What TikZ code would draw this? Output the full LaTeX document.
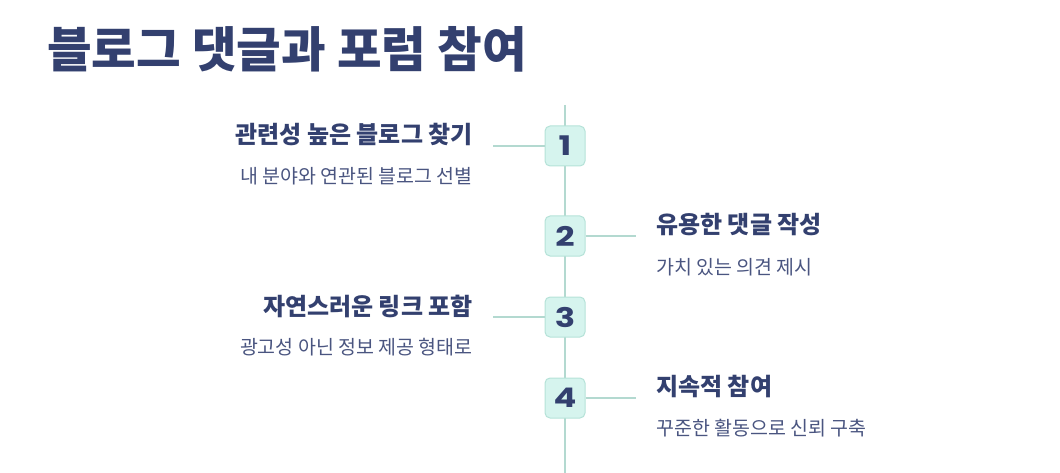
\documentclass[tikz,border=0pt]{standalone}
\usepackage{fontspec}
\usepackage{graphicx}
\setmainfont{Noto Sans CJK KR}
\newfontfamily\numfont{Poppins}
\newcommand{\widenum}[1]{\scalebox{1.25}[1]{#1}}
\definecolor{navy}{HTML}{33406F}
\definecolor{subc}{HTML}{4A5580}
\definecolor{boxfill}{HTML}{D6F4EE}
\definecolor{boxline}{HTML}{B5E2D8}
\definecolor{linec}{HTML}{B3D9D0}
\begin{document}
\begin{tikzpicture}[x=1pt,y=-1pt,
  numbox/.style={draw=boxline,fill=boxfill,rounded corners=5pt,minimum width=40pt,minimum height=40pt,inner sep=0pt,line width=1pt,font=\numfont\bfseries\fontsize{27}{27}\selectfont,text=navy},
  steptitle/.style={inner sep=0pt,font=\fontsize{24}{28}\selectfont\bfseries,text=navy},
  stepsub/.style={inner sep=0pt,font=\fontsize{19.5}{22}\selectfont,text=subc},
  conn/.style={draw=linec,line width=2pt}]
\useasboundingbox (0,0) rectangle (1060,473);
\node[anchor=west,inner sep=0pt,font=\fontsize{48.5}{52}\selectfont\bfseries,text=navy] (title) at (47,49) {블로그 댓글과 포럼 참여};
\coordinate (top) at (565,105);
\coordinate (bot) at (565,473);
\draw[conn] (top) -- (bot);
\node[numbox] (n1) at (565,146) {\widenum{1}};
\node[numbox] (n2) at (565,236) {\widenum{2}};
\node[numbox] (n3) at (565,317) {\widenum{3}};
\node[numbox] (n4) at (565,398) {\widenum{4}};
\coordinate (l1) at (493,146);
\coordinate (r2) at (636,236);
\coordinate (l3) at (493,317);
\coordinate (r4) at (636,398);
\draw[conn] (l1) -- (n1.west);
\draw[conn] (n2.east) -- (r2);
\draw[conn] (l3) -- (n3.west);
\draw[conn] (n4.east) -- (r4);
\node[steptitle,anchor=east] (t1) at (473,135) {관련성 높은 블로그 찾기};
\node[stepsub,anchor=east] (s1) at (473,176) {내 분야와 연관된 블로그 선별};
\node[steptitle,anchor=west] (t2) at (656,225) {유용한 댓글 작성};
\node[stepsub,anchor=west] (s2) at (656,267) {가치 있는 의견 제시};
\node[steptitle,anchor=east] (t3) at (473,306) {자연스러운 링크 포함};
\node[stepsub,anchor=east] (s3) at (473,347) {광고성 아닌 정보 제공 형태로};
\node[steptitle,anchor=west] (t4) at (656,387) {지속적 참여};
\node[stepsub,anchor=west] (s4) at (656,428) {꾸준한 활동으로 신뢰 구축};
\end{tikzpicture}
\end{document}
